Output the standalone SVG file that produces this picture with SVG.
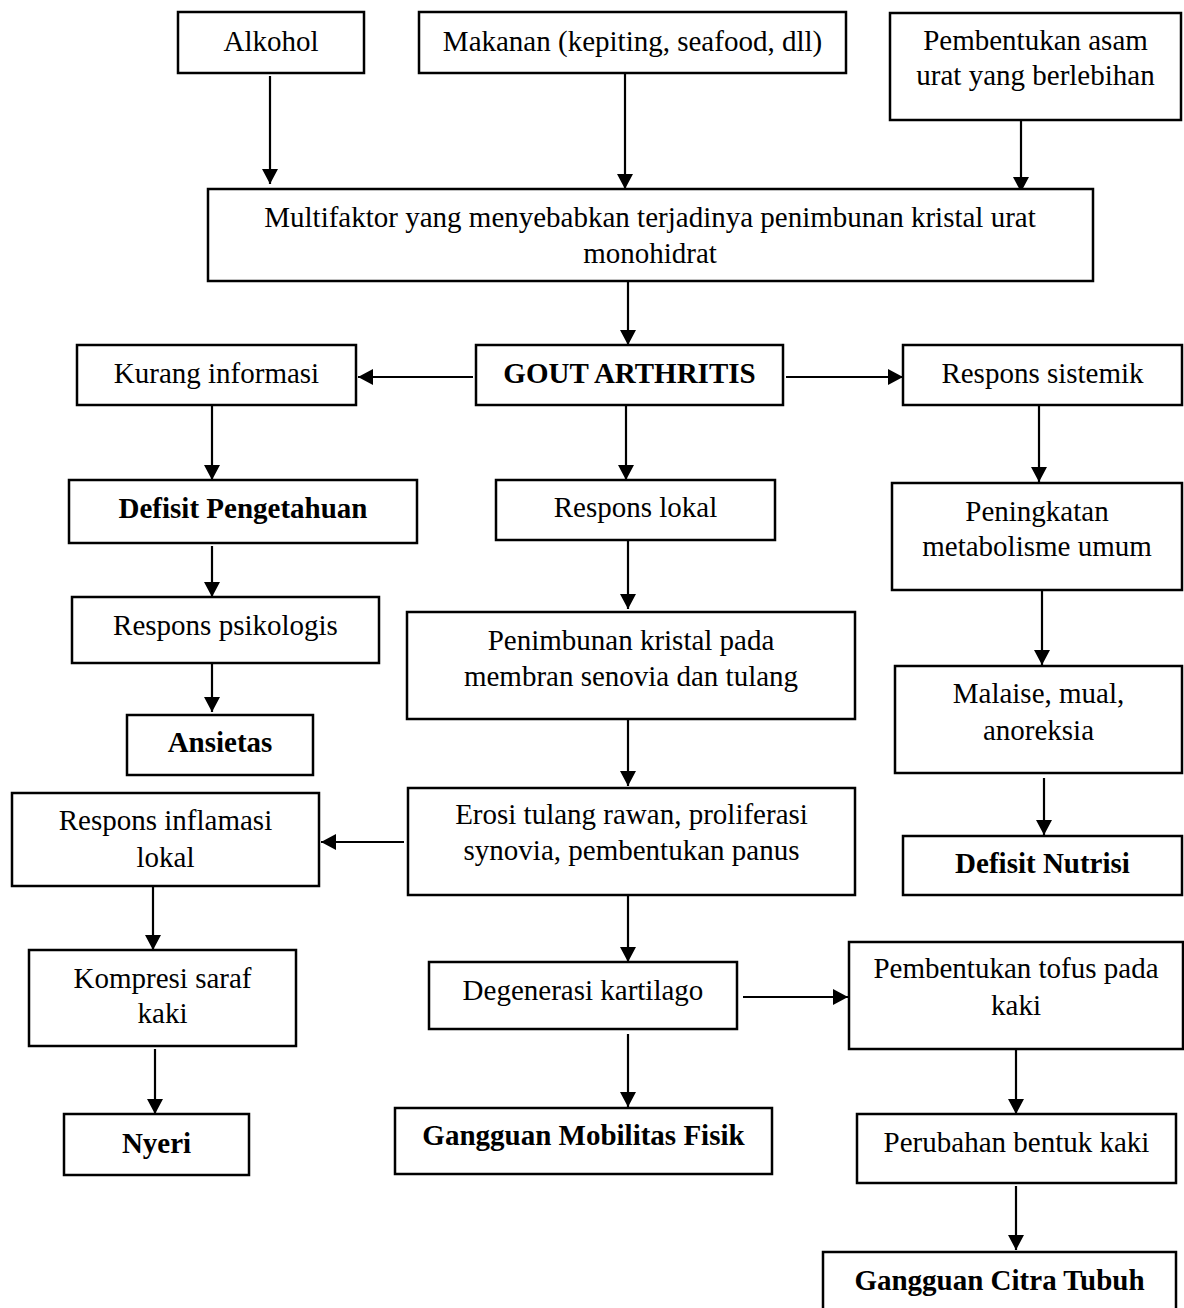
<svg xmlns="http://www.w3.org/2000/svg" width="1184" height="1308" viewBox="0 0 1184 1308">
<style>
rect{fill:#fff;stroke:#000;stroke-width:2.5}
text{font-family:"Liberation Serif","Times New Roman",serif;font-size:29px;fill:#000;text-anchor:middle}
.b{font-weight:bold}
#connectors line{stroke:#000;stroke-width:2.2;marker-end:url(#ah)}
</style>
<defs>
<marker id="ah" markerUnits="userSpaceOnUse" markerWidth="15" markerHeight="16" refX="15" refY="8" orient="auto">
<path d="M0,0 L15,8 L0,16 Z" fill="#000"/>
</marker>
</defs>
<rect x="0" y="0" width="1184" height="1308" style="stroke:none"/>
<g id="connectors">
<line x1="270" y1="76" x2="270" y2="184"/>
<line x1="625" y1="73" x2="625" y2="189"/>
<line x1="1021" y1="120" x2="1021" y2="192"/>
<line x1="628" y1="281" x2="628" y2="345"/>
<line x1="473" y1="377" x2="358" y2="377"/>
<line x1="786" y1="377" x2="903" y2="377"/>
<line x1="212" y1="405" x2="212" y2="480"/>
<line x1="212" y1="546" x2="212" y2="597"/>
<line x1="212" y1="663" x2="212" y2="712"/>
<line x1="626" y1="405" x2="626" y2="480"/>
<line x1="628" y1="540" x2="628" y2="609"/>
<line x1="628" y1="719" x2="628" y2="786"/>
<line x1="404" y1="842" x2="321" y2="842"/>
<line x1="153" y1="886" x2="153" y2="950"/>
<line x1="155" y1="1049" x2="155" y2="1114"/>
<line x1="628" y1="895" x2="628" y2="962"/>
<line x1="628" y1="1034" x2="628" y2="1107"/>
<line x1="743" y1="997" x2="848" y2="997"/>
<line x1="1039" y1="405" x2="1039" y2="482"/>
<line x1="1042" y1="590" x2="1042" y2="665"/>
<line x1="1044" y1="778" x2="1044" y2="835"/>
<line x1="1016" y1="1049" x2="1016" y2="1114"/>
<line x1="1016" y1="1186" x2="1016" y2="1250"/>
</g>
<g id="n-alkohol"><rect x="178" y="12" width="186" height="61"/><text x="271" y="51">Alkohol</text></g>
<g id="n-makanan"><rect x="419" y="12" width="427" height="61"/><text x="632.5" y="51">Makanan (kepiting, seafood, dll)</text></g>
<g id="n-pembentukan-asam"><rect x="890" y="13" width="291" height="107"/><text x="1035.5" y="50">Pembentukan asam</text><text x="1035.5" y="85">urat yang berlebihan</text></g>
<g id="n-multifaktor"><rect x="208" y="189" width="885" height="92"/><text x="650" y="227">Multifaktor yang menyebabkan terjadinya penimbunan kristal urat</text><text x="650" y="263">monohidrat</text></g>
<g id="n-gout"><rect x="476" y="345" width="307" height="60"/><text class="b" x="629.5" y="383">GOUT ARTHRITIS</text></g>
<g id="n-kurang-informasi"><rect x="77" y="345" width="279" height="60"/><text x="216.5" y="383">Kurang informasi</text></g>
<g id="n-respons-sistemik"><rect x="903" y="345" width="279" height="60"/><text x="1042.5" y="383">Respons sistemik</text></g>
<g id="n-defisit-pengetahuan"><rect x="69" y="480" width="348" height="63"/><text class="b" x="243" y="518">Defisit Pengetahuan</text></g>
<g id="n-respons-lokal"><rect x="496" y="480" width="279" height="60"/><text x="635.5" y="517">Respons lokal</text></g>
<g id="n-peningkatan"><rect x="892" y="483" width="290" height="107"/><text x="1037" y="521">Peningkatan</text><text x="1037" y="556">metabolisme umum</text></g>
<g id="n-respons-psikologis"><rect x="72" y="597" width="307" height="66"/><text x="225.5" y="635">Respons psikologis</text></g>
<g id="n-penimbunan"><rect x="407" y="612" width="448" height="107"/><text x="631" y="650">Penimbunan kristal pada</text><text x="631" y="686">membran senovia dan tulang</text></g>
<g id="n-ansietas"><rect x="127" y="715" width="186" height="60"/><text class="b" x="220" y="752">Ansietas</text></g>
<g id="n-malaise"><rect x="895" y="666" width="287" height="107"/><text x="1038.5" y="703">Malaise, mual,</text><text x="1038.5" y="740">anoreksia</text></g>
<g id="n-erosi"><rect x="408" y="788" width="447" height="107"/><text x="631.5" y="824">Erosi tulang rawan, proliferasi</text><text x="631.5" y="860">synovia, pembentukan panus</text></g>
<g id="n-respons-inflamasi"><rect x="12" y="793" width="307" height="93"/><text x="165.5" y="830">Respons inflamasi</text><text x="165.5" y="867">lokal</text></g>
<g id="n-defisit-nutrisi"><rect x="903" y="836" width="279" height="59"/><text class="b" x="1042.5" y="873">Defisit Nutrisi</text></g>
<g id="n-kompresi"><rect x="29" y="950" width="267" height="96"/><text x="162.5" y="988">Kompresi saraf</text><text x="162.5" y="1023">kaki</text></g>
<g id="n-degenerasi"><rect x="429" y="962" width="308" height="67"/><text x="583" y="1000">Degenerasi kartilago</text></g>
<g id="n-tofus"><rect x="849" y="942" width="334" height="107"/><text x="1016" y="978">Pembentukan tofus pada</text><text x="1016" y="1015">kaki</text></g>
<g id="n-nyeri"><rect x="64" y="1114" width="185" height="61"/><text class="b" x="156.5" y="1153">Nyeri</text></g>
<g id="n-mobilitas"><rect x="395" y="1108" width="377" height="66"/><text class="b" x="583.5" y="1145">Gangguan Mobilitas Fisik</text></g>
<g id="n-perubahan"><rect x="857" y="1114" width="319" height="69"/><text x="1016.5" y="1152">Perubahan bentuk kaki</text></g>
<g id="n-citra"><rect x="823" y="1252" width="353" height="70"/><text class="b" x="999.5" y="1290">Gangguan Citra Tubuh</text></g>
</svg>
